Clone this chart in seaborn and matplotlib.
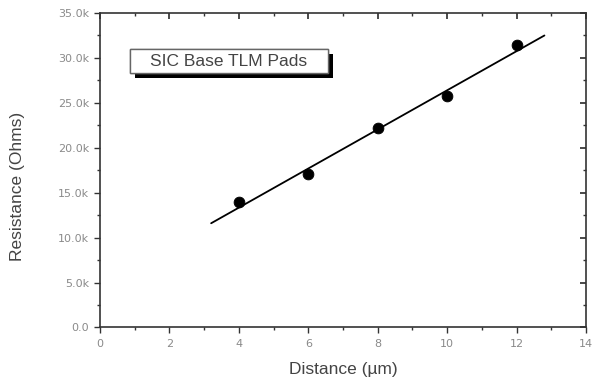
import matplotlib
import matplotlib.pyplot as plt
import matplotlib.patheffects as pe
import numpy as np
import seaborn as sns
from matplotlib.patches import Rectangle
from matplotlib.ticker import FuncFormatter, MultipleLocator

matplotlib.use("Agg")

# measured points
distance_um = [4, 6, 8, 10, 12]
resistance_ohm = [14000, 17100, 22200, 25800, 31400]

# linear fit line as drawn
fit_x = [3.2, 12.8]
fit_y = [11600, 32500]

box_label = "SIC Base TLM Pads"

sns.set_theme(style="ticks")
plt.rcParams["font.family"] = ["Liberation Sans", "DejaVu Sans"]

fig = plt.figure(figsize=(5.92, 3.83), dpi=100)
ax = fig.add_axes([0.169, 0.145, 0.821, 0.821])

sns.lineplot(x=fit_x, y=fit_y, ax=ax, color="black", linewidth=1.3)
sns.scatterplot(x=distance_um, y=resistance_ohm, ax=ax, color="black", s=60,
                edgecolor="black", zorder=3)

ax.set_xlim(0, 14)
ax.set_ylim(0, 35000)
ax.xaxis.set_major_locator(MultipleLocator(2))
ax.xaxis.set_minor_locator(MultipleLocator(1))
ax.yaxis.set_major_locator(MultipleLocator(5000))
ax.yaxis.set_minor_locator(MultipleLocator(2500))
ax.yaxis.set_major_formatter(FuncFormatter(lambda v, _: "0.0" if v == 0 else f"{v / 1000:.1f}k"))

for side in ["top", "right", "left", "bottom"]:
    ax.spines[side].set_visible(True)
    ax.spines[side].set_color("#333333")
    ax.spines[side].set_linewidth(1.2)

ax.tick_params(which="both", direction="out", top=False, right=False, color="#333333")
ax.tick_params(which="major", length=4, width=1.0, labelsize=8, labelcolor="#8a8a8a", pad=4)
ax.tick_params(which="minor", length=2.5, width=1.0)
for lbl in ax.get_xticklabels() + ax.get_yticklabels():
    lbl.set_family("DejaVu Sans")

# inward ticks on top and right, like the original
sec_x = ax.secondary_xaxis("top")
sec_x.xaxis.set_major_locator(MultipleLocator(2))
sec_x.xaxis.set_minor_locator(MultipleLocator(1))
sec_x.tick_params(which="both", direction="in", labeltop=False, color="#333333")
sec_x.tick_params(which="major", length=4)
sec_x.tick_params(which="minor", length=2.5)
sec_x.spines["top"].set_visible(False)
sec_y = ax.secondary_yaxis("right")
sec_y.yaxis.set_major_locator(MultipleLocator(5000))
sec_y.yaxis.set_minor_locator(MultipleLocator(2500))
sec_y.tick_params(which="both", direction="in", labelright=False, color="#333333")
sec_y.tick_params(which="major", length=4)
sec_y.tick_params(which="minor", length=2.5)
sec_y.spines["right"].set_visible(False)

ax.set_xlabel("Distance (µm)", fontsize=12.5, color="#444444")
ax.set_ylabel("Resistance (Ohms)", fontsize=12.5, color="#444444")
ax.xaxis.set_label_coords(0.5, -0.11)
ax.yaxis.set_label_coords(-0.155, 0.45)

box = Rectangle((0.062, 0.809), 0.407, 0.076, transform=ax.transAxes, facecolor="white",
                edgecolor="#666666", linewidth=1.0, zorder=4)
box.set_path_effects([pe.withSimplePatchShadow(offset=(3.5, -3.5), shadow_rgbFace="black", alpha=1.0),
                      pe.Normal()])
ax.add_patch(box)
ax.text(0.265, 0.847, box_label, transform=ax.transAxes, ha="center", va="center",
        fontsize=12.5, color="#444444", zorder=5)

fig.savefig("out.png", dpi=100)
plt.close(fig)
